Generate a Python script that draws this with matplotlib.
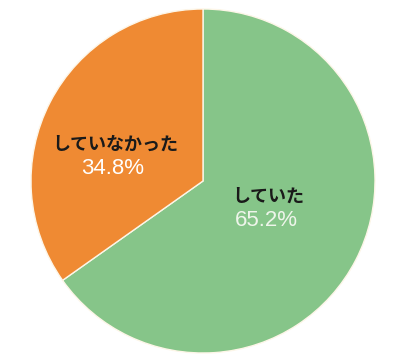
import matplotlib
matplotlib.use("Agg")
import matplotlib.pyplot as plt

# data
labels = ["していた", "していなかった"]
values = [65.2, 34.8]
colors = ["#86c589", "#ef8a33"]

plt.rcParams['font.family'] = ['Noto Sans CJK JP', 'DejaVu Sans']

fig = plt.figure(figsize=(3.98, 3.6), dpi=100)
ax = fig.add_axes([0, 0, 1, 1])

cx, cy, r = 203, 179, 172
wedges, _ = ax.pie(values, colors=colors, startangle=90, counterclock=False,
                   center=(cx, cy), radius=r, frame=True,
                   wedgeprops=dict(edgecolor='#fdf6e8', linewidth=1.0))
ax.set_xlim(0, 398)
ax.set_ylim(0, 360)
ax.set_aspect('equal')
ax.set_axis_off()

# labels: name (bold black) and percent (white)
pos = {0: (268, 164), 1: (115, 216)}
pct_color = ["#eef5ea", "white"]
for i, (lab, v) in enumerate(zip(labels, values)):
    x, y = pos[i]
    ax.text(x, y, lab, ha='center', va='center', fontsize=13, fontweight='bold', color='#1a1a1a')
    ax.text(x - 2, y - 24, f"{v:.1f}%", ha='center', va='center', fontsize=16,
            color=pct_color[i], family=['Liberation Sans', 'DejaVu Sans'])

fig.savefig("out.png", dpi=100)
